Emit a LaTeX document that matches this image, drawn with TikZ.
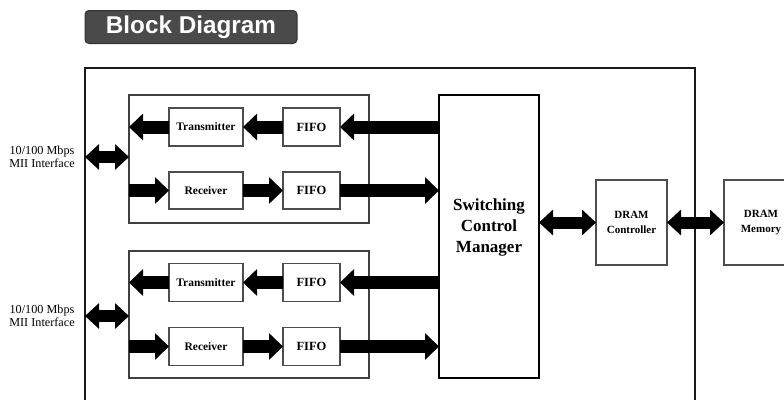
\documentclass[tikz,border=0pt]{standalone}
\usepackage{fontspec}
\setmainfont{Liberation Serif}
\newfontfamily\titlefont{Liberation Sans}
\usetikzlibrary{arrows.meta}
\definecolor{titlegray}{HTML}{4A4A4A}
\definecolor{boxgray}{HTML}{4D4D4D}
\tikzset{
  box/.style={draw=boxgray, line width=1.1pt, fill=white, inner sep=0pt, outer sep=0pt,
    font=\bfseries\fontsize{11.5}{14}\selectfont, align=center},
  grp/.style={draw=black!75, line width=1.4pt, inner sep=0pt, outer sep=0pt},
  fat/.style={line width=13pt, -{Triangle[width=26pt,length=14pt]}},
  fatboth/.style={line width=12pt, {Triangle[width=25pt,length=14pt]}-{Triangle[width=25pt,length=14pt]}},
  miilabel/.style={font=\fontsize{12.2}{13}\selectfont, align=center, inner sep=0pt}
}
\begin{document}
\begin{tikzpicture}[x=1pt,y=-1pt]
\useasboundingbox (0,0) rectangle (784,399);
\clip (0,0) rectangle (784,399);
% title
\node[draw=black!80, fill=titlegray, rounded corners=4pt, line width=1pt,
  minimum width=212pt, minimum height=33pt, inner sep=0pt,
  text=white, font=\titlefont\bfseries\fontsize{24.3}{26}\selectfont] (title) at (191,27) {Block Diagram};
% outer frame
\node[draw=black!90, line width=2pt, minimum width=610pt, minimum height=380pt, inner sep=0pt, outer sep=0pt] (frame) at (390,257.5) {};
% groups
\node[grp, minimum width=240pt, minimum height=128pt] (grp1) at (249,159) {};
\node[grp, minimum width=240pt, minimum height=127pt] (grp2) at (249,314.5) {};
% boxes group 1
\node[box, minimum width=74pt, minimum height=38pt] (tx1) at (206,127) {Transmitter};
\node[box, minimum width=74pt, minimum height=37pt] (rx1) at (206,190.5) {Receiver};
\node[box, minimum width=57pt, minimum height=38pt, font=\bfseries\fontsize{12.5}{14}\selectfont] (f1t) at (311.5,127) {FIFO};
\node[box, minimum width=57pt, minimum height=37pt, font=\bfseries\fontsize{12.5}{14}\selectfont] (f1r) at (311.5,190.5) {FIFO};
% boxes group 2
\node[box, minimum width=74pt, minimum height=38pt] (tx2) at (206,282.5) {Transmitter};
\node[box, minimum width=74pt, minimum height=38pt] (rx2) at (206,346.5) {Receiver};
\node[box, minimum width=57pt, minimum height=38pt, font=\bfseries\fontsize{12.5}{14}\selectfont] (f2t) at (311.5,282.5) {FIFO};
\node[box, minimum width=57pt, minimum height=38pt, font=\bfseries\fontsize{12.5}{14}\selectfont] (f2r) at (311.5,346.5) {FIFO};
% switching control manager
\node[draw=black, line width=2pt, fill=white, minimum width=100pt, minimum height=283pt, inner sep=0pt, outer sep=0pt] (scm) at (489,236.5) {};
\node[font=\bfseries\fontsize{17}{21}\selectfont, align=center, inner sep=0pt] (scmlabel) at (489,227) {Switching\\Control\\Manager};
% DRAM
\node[box, minimum width=71pt, minimum height=85pt, font=\bfseries\fontsize{11}{14.5}\selectfont] (dc) at (631.5,222.5) {DRAM\\Controller};
\node[box, minimum width=74pt, minimum height=85pt, font=\bfseries\fontsize{11}{14.5}\selectfont] (dm) at (761,222.5) {DRAM\\Memory};
% MII labels
\node[miilabel] (mii1) at (42,157) {10/100 Mbps\\MII Interface};
\node[miilabel] (mii2) at (42,316) {10/100 Mbps\\MII Interface};
% arrows group 1
\draw[fatboth] (mii1 -| frame.west) -- (mii1 -| grp1.west);
\draw[fat] (tx1.west) -- (tx1 -| grp1.west);
\draw[fat] (f1t.west) -- (tx1.east);
\draw[fat] (f1t -| scm.west) -- (f1t.east);
\draw[fat] (rx1 -| grp1.west) -- (rx1.west);
\draw[fat] (rx1.east) -- (f1r.west);
\draw[fat] (f1r.east) -- (f1r -| scm.west);
% arrows group 2
\draw[fatboth] (mii2 -| frame.west) -- (mii2 -| grp2.west);
\draw[fat] (tx2.west) -- (tx2 -| grp2.west);
\draw[fat] (f2t.west) -- (tx2.east);
\draw[fat] (f2t -| scm.west) -- (f2t.east);
\draw[fat] (rx2 -| grp2.west) -- (rx2.west);
\draw[fat] (rx2.east) -- (f2r.west);
\draw[fat] (f2r.east) -- (f2r -| scm.west);
% DRAM arrows
\draw[fatboth] (dc -| scm.east) -- (dc.west);
\draw[fatboth] (dc.east) -- (dm.west);
\end{tikzpicture}
\end{document}
